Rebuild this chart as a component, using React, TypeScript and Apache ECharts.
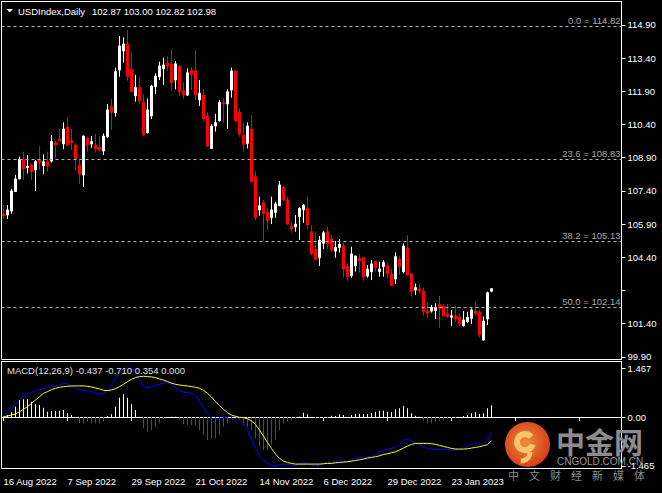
import React, { useEffect, useRef } from "react";
import * as echarts from "echarts";

// ---------- DATA ----------
const opens = [
  106.36, 106.31, 106.49, 107.37, 107.94, 108.83, 108.45, 108.57, 108.35, 108.8,
  108.54, 108.72, 108.75, 109.58, 109.75, 109.52, 110.29, 109.67, 109.47, 108.57,
  108.12, 109.78, 109.52, 109.47, 109.38, 109.2, 109.85, 111.21, 110.93, 112.86,
  113.72, 114.04, 112.91, 111.7, 112.07, 111.4, 110.03, 110.79, 112.11, 112.56,
  112.91, 113.17, 113.14, 112.41, 113.04, 111.92, 111.73, 112.86, 112.83, 111.51,
  111.73, 110.79, 109.32, 110.33, 110.57, 111.39, 111.33, 111.96, 112.82, 110.95,
  109.93, 109.55, 110.2, 108.04, 106.54, 106.87, 106.43, 106.19, 106.43, 106.73,
  107.55, 106.99, 105.81, 105.78, 106.24, 106.54, 106.61, 105.56, 104.76, 104.38,
  105.03, 105.56, 105.23, 104.68, 104.84, 104.91, 103.98, 103.57, 104.01, 104.35,
  104.38, 103.55, 103.75, 104.2, 103.75, 103.98, 104.02, 103.65, 103.42, 104.32,
  103.75, 104.8, 103.65, 102.92, 102.97, 102.88, 101.97, 101.97, 101.99, 102.27,
  102.2, 101.84, 101.69, 101.75, 101.69, 101.31, 101.49, 101.64, 101.97, 101.91,
  100.66, 101.61, 102.87,
];
const highs = [
  106.76, 106.76, 107.49, 108.12, 108.95, 109.17, 109.02, 108.65, 108.8, 109.43,
  109.05, 109.17, 109.93, 109.66, 110.2, 110.5, 110.74, 110.2, 109.55, 108.87,
  109.9, 109.85, 109.88, 109.97, 109.88, 110.0, 111.33, 111.55, 112.97, 114.4,
  114.34, 114.67, 113.66, 112.64, 112.49, 111.76, 111.58, 112.19, 112.71, 113.24,
  113.42, 113.47, 113.81, 113.27, 113.09, 112.31, 112.94, 112.98, 113.77, 112.41,
  111.99, 110.95, 110.42, 110.88, 111.51, 111.58, 111.99, 112.98, 112.84, 111.13,
  110.48, 110.5, 110.83, 108.3, 107.14, 106.99, 106.61, 107.14, 106.91, 107.85,
  107.62, 107.14, 105.98, 106.31, 106.66, 106.81, 107.14, 105.86, 105.56, 105.36,
  105.59, 105.78, 105.41, 105.14, 105.23, 105.06, 104.13, 104.88, 104.47, 104.55,
  104.43, 104.05, 104.28, 104.25, 104.2, 104.28, 104.2, 103.86, 104.62, 104.43,
  105.03, 105.41, 103.68, 103.22, 103.22, 103.03, 102.36, 102.24, 102.32, 102.65,
  102.27, 102.29, 102.02, 102.2, 101.87, 101.97, 101.94, 102.09, 102.43, 102.02,
  101.72, 102.85, 103.0,
];
const lows = [
  106.16, 106.13, 106.37, 107.35, 107.93, 107.89, 108.19, 107.89, 107.4, 108.35,
  108.16, 108.27, 108.68, 108.87, 109.63, 109.29, 109.44, 109.25, 108.3, 107.71,
  107.58, 109.17, 109.35, 109.13, 109.17, 109.02, 109.78, 110.15, 110.75, 112.56,
  113.2, 112.38, 111.85, 111.43, 111.34, 109.88, 109.99, 110.65, 111.78, 112.41,
  112.19, 112.82, 111.93, 111.99, 111.7, 111.55, 111.69, 111.96, 111.51, 111.24,
  110.56, 109.38, 109.29, 110.08, 110.53, 110.48, 110.2, 111.61, 110.53, 109.85,
  109.17, 109.32, 107.8, 106.08, 106.28, 105.14, 105.63, 105.9, 106.19, 106.72,
  106.94, 105.86, 105.51, 105.56, 105.18, 105.96, 105.66, 104.5, 104.28, 104.01,
  104.77, 104.77, 104.65, 104.38, 104.61, 103.48, 103.34, 103.48, 103.75, 103.71,
  103.34, 103.48, 103.37, 103.75, 103.52, 103.52, 103.45, 103.1, 103.19, 103.6,
  103.68, 103.57, 102.62, 102.7, 102.77, 101.76, 101.67, 101.9, 101.61, 101.22,
  101.72, 101.67, 101.3, 101.46, 101.31, 101.27, 101.42, 101.39, 101.79, 100.78,
  100.63, 101.34, 102.82,
];
const closes = [
  106.27, 106.54, 107.4, 107.94, 108.83, 108.39, 108.5, 108.27, 108.72, 108.68,
  108.72, 108.5, 109.63, 109.47, 109.66, 110.2, 109.47, 109.58, 108.84, 108.16,
  109.88, 109.47, 109.63, 109.29, 109.25, 109.88, 111.06, 110.95, 112.79, 113.95,
  114.04, 112.56, 111.88, 112.07, 111.46, 109.93, 111.06, 112.14, 112.59, 113.04,
  113.09, 113.04, 112.29, 113.14, 111.88, 111.73, 112.74, 112.67, 111.73, 111.81,
  110.65, 109.43, 110.33, 110.48, 111.4, 111.33, 111.88, 112.82, 110.56, 109.96,
  109.5, 110.33, 107.82, 106.19, 106.73, 106.39, 106.06, 106.54, 106.81, 107.67,
  106.99, 105.9, 105.68, 105.9, 106.61, 106.76, 105.86, 104.55, 104.31, 105.18,
  105.51, 105.03, 104.73, 104.84, 104.99, 103.87, 103.52, 104.55, 104.46, 104.23,
  103.52, 103.86, 104.1, 103.93, 103.87, 104.17, 103.65, 103.12, 104.43, 103.98,
  104.91, 103.6, 102.85, 103.03, 102.88, 101.94, 101.87, 102.14, 102.14, 102.09,
  101.76, 101.72, 101.76, 101.61, 101.39, 101.57, 101.69, 102.02, 101.87, 100.89,
  101.52, 102.8, 102.98,
];

const macdMain = [
  0.01, 0.11, 0.26, 0.36, 0.54, 0.64, 0.71, 0.74, 0.78, 0.81,
  0.86, 0.88, 0.9, 0.92, 0.96, 1.01, 0.98, 0.92, 0.86, 0.81,
  0.8, 0.78, 0.76, 0.73, 0.68, 0.71, 0.81, 0.98, 1.16, 1.34,
  1.44, 1.467, 1.46, 1.31, 1.11, 0.91, 0.88, 0.9, 0.94, 0.98,
  1.01, 1.03, 0.98, 0.88, 0.78, 0.74, 0.73, 0.72, 0.64, 0.48,
  0.26, 0.08, -0.04, -0.06, -0.04, -0.02, 0.0, 0.04, 0.01, -0.06,
  -0.19, -0.39, -0.69, -0.94, -1.14, -1.29, -1.39, -1.46, -1.465, -1.42,
  -1.41, -1.42, -1.44, -1.44, -1.4, -1.36, -1.39, -1.44, -1.46, -1.45,
  -1.39, -1.37, -1.36, -1.32, -1.29, -1.32, -1.34, -1.28, -1.22, -1.21,
  -1.2, -1.2, -1.17, -1.12, -1.06, -0.99, -0.96, -0.94, -0.89, -0.82,
  -0.69, -0.67, -0.72, -0.78, -0.84, -0.9, -0.94, -0.96, -0.97, -0.97,
  -0.97, -0.97, -0.99, -0.99, -0.96, -0.92, -0.87, -0.82, -0.79, -0.82,
  -0.79, -0.69, -0.437,
];
const macdSignal = [
  0.01, 0.03, 0.06, 0.09, 0.16, 0.23, 0.31, 0.41, 0.51, 0.61,
  0.71, 0.76, 0.82, 0.86, 0.89, 0.91, 0.92, 0.93, 0.93, 0.93,
  0.93, 0.92, 0.9, 0.87, 0.84, 0.8, 0.79, 0.81, 0.85, 0.91,
  0.98, 1.06, 1.13, 1.18, 1.21, 1.22, 1.21, 1.2, 1.18, 1.14,
  1.1, 1.06, 1.01, 0.98, 0.96, 0.94, 0.93, 0.91, 0.89, 0.86,
  0.8, 0.71, 0.6, 0.46, 0.34, 0.23, 0.13, 0.06, 0.02, -0.01,
  -0.02, -0.05, -0.12, -0.22, -0.39, -0.57, -0.76, -0.94, -1.11, -1.24,
  -1.32, -1.36, -1.39, -1.41, -1.41, -1.41, -1.41, -1.41, -1.41, -1.41,
  -1.4, -1.39, -1.39, -1.37, -1.36, -1.35, -1.34, -1.32, -1.3, -1.28,
  -1.26, -1.23, -1.21, -1.19, -1.16, -1.12, -1.1, -1.07, -1.04, -0.99,
  -0.93, -0.87, -0.82, -0.79, -0.79, -0.79, -0.79, -0.8, -0.82, -0.85,
  -0.88, -0.91, -0.94, -0.96, -0.96, -0.96, -0.95, -0.93, -0.91, -0.89,
  -0.86, -0.83, -0.71,
];
const macdHist = [
  0.01, 0.06, 0.14, 0.31, 0.51, 0.53, 0.53, 0.46, 0.38, 0.36,
  0.28, 0.16, 0.18, 0.19, 0.19, 0.21, 0.11, 0.06, -0.01, -0.19,
  -0.19, -0.14, -0.19, -0.19, -0.19, -0.14, 0.03, 0.08, 0.31, 0.58,
  0.68, 0.58, 0.38, 0.21, 0.0, -0.34, -0.44, -0.39, -0.29, -0.19,
  -0.06, 0.0, 0.01, 0.01, -0.09, -0.22, -0.24, -0.24, -0.26, -0.39,
  -0.54, -0.69, -0.64, -0.64, -0.54, -0.29, -0.19, -0.04, 0.0, -0.06,
  -0.24, -0.29, -0.39, -0.64, -0.89, -0.99, -0.99, -0.82, -0.69, -0.39,
  -0.19, -0.14, -0.09, -0.06, 0.01, 0.13, 0.08, 0.0, -0.04, -0.04,
  -0.04, -0.02, 0.04, 0.03, 0.08, 0.06, 0.0, 0.06, 0.09, 0.1,
  0.08, 0.09, 0.12, 0.16, 0.19, 0.19, 0.16, 0.14, 0.23, 0.26,
  0.33, 0.26, 0.11, 0.04, 0.0, -0.12, -0.19, -0.19, -0.14, -0.12,
  -0.09, -0.06, -0.04, -0.02, 0.0, 0.03, 0.06, 0.11, 0.14, 0.09,
  0.11, 0.26, 0.354,
];

const fibNames = ["0.0", "23.6", "38.2", "50.0"];
const fibValues = [114.82, 108.83, 105.13, 102.14];
const priceTicks = [99.9, 101.4, 102.9, 104.4, 105.9, 107.4, 108.9, 110.4, 111.9, 113.4, 114.9];
const priceLabels = [99.9, 101.4, 104.4, 105.9, 107.4, 108.9, 110.4, 111.9, 113.4, 114.9];
const macdTicks = [-1.465, 0, 1.467];
const macdTickLabels = ["-1.465", "0.00", "1.467"];
const headerValues = ["102.87", "103.00", "102.82", "102.98"];
const macdHeader = "MACD(12,26,9) -0.437 -0.710 0.354 0.000";
const firstDate = [2022, 7, 16];
const skippedDates = ["2022-12-26", "2023-01-02"];
const totalSlots = 155;

const MONTHS = ["Jan", "Feb", "Mar", "Apr", "May", "Jun", "Jul", "Aug", "Sep", "Oct", "Nov", "Dec"];

function buildDates(n: number): string[] {
  const out: string[] = [];
  const d = new Date(Date.UTC(firstDate[0], firstDate[1], firstDate[2]));
  while (out.length < n) {
    const dow = d.getUTCDay();
    const iso = d.toISOString().slice(0, 10);
    if (dow !== 0 && dow !== 6 && !skippedDates.includes(iso)) {
      out.push(`${d.getUTCDate()} ${MONTHS[d.getUTCMonth()]} ${d.getUTCFullYear()}`);
    }
    d.setUTCDate(d.getUTCDate() + 1);
  }
  return out;
}

const FONT = "Liberation Sans";
const FS = 9.5;

function buildOption() {
  const dates = buildDates(closes.length);
  const cats = dates.concat(new Array(totalSlots - dates.length).fill(""));
  const candles = closes.map((c, i) => [opens[i], c, lows[i], highs[i]]);
  const last = closes[closes.length - 1];

  const fibLines = fibValues.map((v, i) => ({
    yAxis: v,
    label: { formatter: `${fibNames[i]} = ${v.toFixed(2)}` },
  }));

  const histData = macdHist.map((v) => ({
    value: v,
    itemStyle: { color: v >= 0 ? "#ffffff" : "#ff0000" },
  }));

  const cjk = ["中", "文", "财", "经", "新", "媒", "体"];

  return {
    backgroundColor: "#000",
    animation: false,
    textStyle: { fontFamily: FONT },
    grid: [
      { left: 1.5, top: 1.5, width: 620, height: 358, show: true, borderColor: "#fff", borderWidth: 1, backgroundColor: "transparent" },
      { left: 1.5, top: 361.5, width: 620, height: 107, show: true, borderColor: "#fff", borderWidth: 1, backgroundColor: "transparent" },
    ],
    xAxis: [
      {
        type: "category", gridIndex: 0, data: cats, boundaryGap: true,
        axisLine: { show: false }, axisTick: { show: false }, axisLabel: { show: false }, splitLine: { show: false },
      },
      {
        type: "category", gridIndex: 1, data: cats, boundaryGap: true,
        axisLine: { show: true, lineStyle: { color: "#fff", width: 1 } },
        axisTick: { show: true, interval: 15, alignWithLabel: true, length: 4, lineStyle: { color: "#fff" } },
        axisLabel: { show: true, interval: 15, align: "left", color: "#fff", fontSize: FS, fontFamily: FONT, margin: 8 },
        splitLine: { show: false },
      },
    ],
    yAxis: [
      {
        type: "value", gridIndex: 0, position: "right", scale: true,
        min: 99.782, max: 115.959,
        axisLine: { show: true, lineStyle: { color: "#fff", width: 1 } },
        axisTick: { show: true, length: 4, customValues: priceTicks, lineStyle: { color: "#fff" } },
        axisLabel: { show: true, customValues: priceLabels, formatter: (v: number) => v.toFixed(2), color: "#fff", fontSize: FS, fontFamily: FONT, margin: 6 },
        splitLine: { show: false },
      },
      {
        type: "value", gridIndex: 1, position: "right", scale: true,
        min: -1.542, max: 1.662,
        axisLine: { show: true, lineStyle: { color: "#fff", width: 1 } },
        axisTick: { show: true, length: 4, customValues: macdTicks, lineStyle: { color: "#fff" } },
        axisLabel: {
          show: true, customValues: macdTicks,
          formatter: (v: number) => macdTickLabels[macdTicks.findIndex((t) => Math.abs(t - v) < 1e-6)] ?? "",
          color: "#fff", fontSize: FS, fontFamily: FONT, margin: 6,
        },
        splitLine: { show: false },
      },
    ],
    series: [
      {
        type: "candlestick", xAxisIndex: 0, yAxisIndex: 0, data: candles, barWidth: 2,
        itemStyle: { color: "#ffffff", color0: "#ff0000", borderColor: "#ffffff", borderColor0: "#ff0000", borderWidth: 1 },
        markLine: {
          silent: true, symbol: "none", animation: false,
          lineStyle: { type: [3, 3], color: "#b4b4b4", width: 1 },
          label: { show: true, position: "insideEndTop", color: "#a8a8a8", fontSize: FS, fontFamily: FONT, distance: [1, 1] },
          data: [
            ...fibLines,
            {
              yAxis: last,
              lineStyle: { opacity: 0 },
              label: {
                position: "end", formatter: last.toFixed(2), color: "#000", backgroundColor: "#fff",
                padding: [1, 4, 0, 3], distance: 1, fontSize: FS, fontFamily: FONT,
              },
            },
          ],
        },
      },
      {
        type: "bar", xAxisIndex: 1, yAxisIndex: 1, data: histData, barWidth: 1,
      },
      {
        type: "line", xAxisIndex: 1, yAxisIndex: 1, data: macdMain, symbol: "none",
        lineStyle: { color: "#0000ff", width: 1 },
      },
      {
        type: "line", xAxisIndex: 1, yAxisIndex: 1, data: macdSignal, symbol: "none",
        lineStyle: { color: "#ffff00", width: 1 },
      },
    ],
    graphic: [
      { type: "polygon", shape: { points: [[6.5, 9], [13, 9], [9.75, 12.5]] }, style: { fill: "#fff" }, z: 100 },
      { type: "text", x: 18, y: 11, style: { text: "USDIndex,Daily", fill: "#fff", font: `${FS}px '${FONT}'`, textVerticalAlign: "middle" }, z: 100 },
      { type: "text", x: 92, y: 11, style: { text: headerValues.join(" "), fill: "#fff", font: `${FS}px '${FONT}'`, textVerticalAlign: "middle" }, z: 100 },
      { type: "text", x: 7, y: 370.5, style: { text: macdHeader, fill: "#e0e0e0", font: `${FS}px '${FONT}'`, textVerticalAlign: "middle" }, z: 100 },
      // watermark
      {
        type: "circle", shape: { cx: 527.5, cy: 444.5, r: 22.5 }, z: 200,
        style: { fill: { type: "radial", x: 0.45, y: 0.45, r: 0.6, colorStops: [{ offset: 0, color: "#f08a3a" }, { offset: 1, color: "#d23a18" }] } as any },
      },
      { type: "arc", shape: { cx: 525, cy: 442, r: 8, startAngle: 0.3, endAngle: 5.6 }, style: { stroke: "#f6c46a", lineWidth: 6, fill: "none" }, z: 201 },
      { type: "arc", shape: { cx: 521, cy: 452, r: 9, startAngle: 0, endAngle: 1.6 }, style: { stroke: "#f6c46a", lineWidth: 5, fill: "none" }, z: 201 },
      { type: "text", x: 556, y: 441, style: { text: "中金网", fill: "#8c8c8c", font: "bold 29px 'Noto Sans CJK SC'", textVerticalAlign: "middle" }, z: 200 },
      { type: "text", x: 557, y: 461.5, style: { text: "CNGOLD.COM.CN", fill: "#9a9a9a", font: "10px 'Liberation Sans'", textVerticalAlign: "middle" }, z: 200 },
      ...cjk.map((ch, i) => ({
        type: "text", x: 508 + i * 21, y: 474.5, z: 200,
        style: { text: ch, fill: "#8c8c8c", font: "11px 'Noto Sans CJK SC'", textVerticalAlign: "middle" },
      })),
    ],
  };
}

export default function App() {
  const ref = useRef<HTMLDivElement>(null);
  useEffect(() => {
    if (!ref.current) return;
    const chart = echarts.init(ref.current, undefined, { renderer: "svg" });
    chart.setOption(buildOption() as any);
    return () => chart.dispose();
  }, []);
  return <div ref={ref} style={{ position: "absolute", left: 0, top: 0, width: 662, height: 493 }} />;
}
